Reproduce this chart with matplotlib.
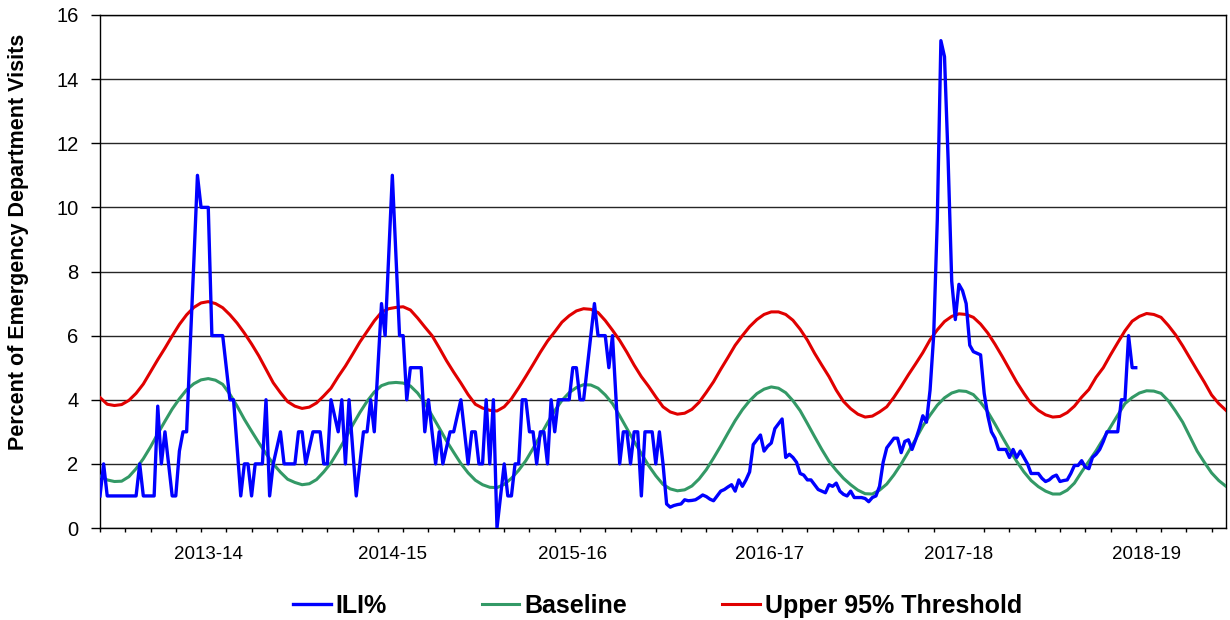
#ILI% vs baseline and epidemic threshold, weekly, 2013-14 to 2018-19

import matplotlib
matplotlib.use('Agg')
import matplotlib.pyplot as plt
import numpy as np

plt.rcParams['font.family'] = ['Liberation Sans', 'DejaVu Sans']

W, H = 1230, 620

seasons = ['2013-14', '2014-15', '2015-16', '2016-17', '2017-18', '2018-19']
#week index under the middle of each season label
season_label_weeks = [30, 81, 131, 185.5, 238, 290]
n_weeks = 313

#weekly ILI%, week 0 = first week of july 2013
ili = [
    1, 2, 1, 1, 1, 1, 1, 1, 1, 1,
    1, 2, 1, 1, 1, 1, 3.8, 2, 3, 2,
    1, 1, 2.4, 3, 3, 5.7, 8.3, 11, 10, 10,
    10, 6, 6, 6, 6, 5, 4, 4, 2.5, 1,
    2, 2, 1, 2, 2, 2, 4, 1, 2, 2.5,
    3, 2, 2, 2, 2, 3, 3, 2, 2.5, 3,
    3, 3, 2, 2, 4, 3.5, 3, 4, 2, 4,
    2.5, 1, 2, 3, 3, 4, 3, 5, 7, 6,
    8.5, 11, 8.5, 6, 6, 4, 5, 5, 5, 5,
    3, 4, 3, 2, 3, 2, 2.5, 3, 3, 3.5,
    4, 3, 2, 3, 3, 2, 2, 4, 2, 4,
    0, 1, 2, 1, 1, 2, 2, 4, 4, 3,
    3, 2, 3, 3, 2, 4, 3, 4, 4, 4,
    4, 5, 5, 4, 4, 5, 6, 7, 6, 6,
    6, 5, 6, 4, 2, 3, 3, 2, 3, 3,
    1, 3, 3, 3, 2, 3, 2, 0.75, 0.65, 0.7,
    0.73, 0.75, 0.88, 0.85, 0.86, 0.88, 0.95, 1.03, 0.98, 0.9,
    0.85, 1.0, 1.15, 1.2, 1.28, 1.35, 1.15, 1.5, 1.3, 1.5,
    1.75, 2.6, 2.75, 2.9, 2.4, 2.55, 2.65, 3.1, 3.25, 3.4,
    2.2, 2.3, 2.2, 2.05, 1.7, 1.65, 1.5, 1.5, 1.35, 1.2,
    1.15, 1.1, 1.35, 1.3, 1.4, 1.15, 1.05, 1.0, 1.15, 0.95,
    0.95, 0.95, 0.92, 0.82, 0.95, 1.0, 1.3, 2.05, 2.5, 2.65,
    2.8, 2.8, 2.35, 2.7, 2.75, 2.45, 2.75, 3.1, 3.5, 3.3,
    4.3, 6.0, 9.6, 15.2, 14.7, 11.5, 7.7, 6.5, 7.6, 7.4,
    7.0, 5.7, 5.5, 5.45, 5.4, 4.2, 3.5, 3.0, 2.8, 2.45,
    2.45, 2.45, 2.2, 2.45, 2.2, 2.4, 2.2, 2.0, 1.7, 1.7,
    1.7, 1.55, 1.45, 1.5, 1.6, 1.65, 1.45, 1.48, 1.5, 1.7,
    1.95, 1.95, 2.1, 1.9, 1.85, 2.2, 2.3, 2.45, 2.7, 3.0,
    3.0, 3.0, 3.0, 4.0, 4.0, 6.0, 5.0, 5.0,
]

#baseline and threshold read every second week (weeks 0, 2, ... 312)
baseline = [
    1.62, 1.50, 1.45, 1.46, 1.60, 1.85, 2.16, 2.53, 2.94, 3.33,
    3.71, 4.03, 4.31, 4.50, 4.62, 4.66, 4.61, 4.48, 4.17, 3.80,
    3.39, 3.02, 2.66, 2.32, 2.00, 1.74, 1.52, 1.42, 1.35, 1.38,
    1.51, 1.75, 2.03, 2.40, 2.79, 3.21, 3.60, 3.95, 4.24, 4.44,
    4.52, 4.54, 4.52, 4.43, 4.21, 3.90, 3.51, 3.12, 2.72, 2.36,
    2.01, 1.72, 1.49, 1.35, 1.27, 1.26, 1.36, 1.55, 1.80, 2.10,
    2.48, 2.88, 3.28, 3.66, 3.98, 4.22, 4.38, 4.47, 4.46, 4.36,
    4.15, 3.88, 3.50, 3.10, 2.70, 2.32, 1.95, 1.63, 1.36, 1.22,
    1.16, 1.19, 1.31, 1.53, 1.82, 2.18, 2.56, 2.96, 3.35, 3.69,
    3.97, 4.19, 4.33, 4.40, 4.36, 4.22, 3.97, 3.66, 3.26, 2.85,
    2.45, 2.08, 1.80, 1.55, 1.35, 1.18, 1.07, 1.06, 1.18, 1.37,
    1.66, 2.00, 2.38, 2.77, 3.18, 3.52, 3.83, 4.06, 4.21, 4.28,
    4.26, 4.16, 3.92, 3.62, 3.24, 2.84, 2.45, 2.08, 1.75, 1.48,
    1.29, 1.15, 1.06, 1.06, 1.18, 1.40, 1.75, 2.08, 2.41, 2.78,
    3.15, 3.52, 3.88, 4.07, 4.21, 4.28, 4.27, 4.20, 3.97, 3.65,
    3.30, 2.85, 2.40, 2.05, 1.72, 1.48, 1.30,
]

threshold = [
    4.07, 3.86, 3.82, 3.85, 3.98, 4.20, 4.49, 4.87, 5.25, 5.61,
    5.99, 6.35, 6.65, 6.88, 7.02, 7.06, 7.00, 6.87, 6.65, 6.39,
    6.08, 5.74, 5.37, 4.95, 4.53, 4.22, 3.94, 3.80, 3.73, 3.77,
    3.90, 4.12, 4.36, 4.72, 5.05, 5.42, 5.80, 6.13, 6.46, 6.73,
    6.84, 6.88, 6.90, 6.80, 6.55, 6.27, 6.00, 5.62, 5.22, 4.86,
    4.52, 4.16, 3.86, 3.74, 3.67, 3.65, 3.78, 4.03, 4.37, 4.73,
    5.10, 5.48, 5.83, 6.12, 6.42, 6.62, 6.77, 6.84, 6.82, 6.72,
    6.47, 6.17, 5.85, 5.48, 5.08, 4.72, 4.42, 4.09, 3.78, 3.62,
    3.55, 3.58, 3.70, 3.92, 4.23, 4.56, 4.95, 5.32, 5.70, 6.00,
    6.28, 6.50, 6.66, 6.74, 6.74, 6.66, 6.48, 6.20, 5.86, 5.45,
    5.08, 4.72, 4.30, 3.95, 3.72, 3.55, 3.46, 3.49, 3.62, 3.78,
    4.08, 4.42, 4.78, 5.12, 5.47, 5.87, 6.18, 6.44, 6.60, 6.68,
    6.66, 6.57, 6.36, 6.08, 5.73, 5.35, 4.95, 4.55, 4.20, 3.88,
    3.67, 3.53, 3.46, 3.48, 3.60, 3.80, 4.08, 4.32, 4.70, 5.00,
    5.40, 5.78, 6.15, 6.45, 6.60, 6.69, 6.66, 6.57, 6.32, 6.03,
    5.68, 5.30, 4.92, 4.55, 4.15, 3.88, 3.67,
]

ili_weeks = np.arange(len(ili))
curve_weeks = np.arange(len(baseline)) * 2

fig = plt.figure(figsize=(W / 100, H / 100), dpi=100)
#plot box in pixels: x 100..1226, y 15..528
ax = fig.add_axes([100 / W, (H - 528) / H, 1126 / W, 513 / H])

l_base, = ax.plot(curve_weeks, baseline, color='#339966', lw=2.2, zorder=3)
l_thr, = ax.plot(curve_weeks, threshold, color='#E00000', lw=2.2, zorder=3)
l_ili, = ax.plot(ili_weeks, ili, color='#0000FF', lw=2.4, zorder=4)

ax.set_xlim(0, n_weeks - 1)
ax.set_ylim(0, 16)
ax.set_yticks(range(0, 17, 2))
ax.yaxis.grid(True, color='#262626', lw=1)
ax.set_axisbelow(True)

ax.set_xticks(season_label_weeks)
ax.set_xticklabels(seasons, fontsize=13.5)
ax.set_xticks(np.arange(0, n_weeks, 7), minor=True)
ax.tick_params(axis='x', which='major', length=0, pad=13)
ax.tick_params(axis='x', which='minor', length=3, width=1, direction='out')
ax.tick_params(axis='y', length=6.5, width=1, pad=9, labelsize=14.5)

for s in ax.spines.values():
    s.set_color('black')
    s.set_linewidth(1)

fig.text(19 / W, 1 - 242 / H, 'Percent of Emergency Department Visits',
         rotation=90, ha='center', va='center', fontsize=15.5, fontweight='bold')

fig.legend([l_ili, l_base, l_thr], ['ILI%', 'Baseline', 'Upper 95% Threshold'],
           loc='center', bbox_to_anchor=(657.5 / W, 1 - 606 / H), ncol=3,
           frameon=False, prop={'weight': 'bold', 'size': 18},
           handlelength=1.5, handletextpad=0.2, columnspacing=3.8)

fig.savefig('out.png', dpi=100)
